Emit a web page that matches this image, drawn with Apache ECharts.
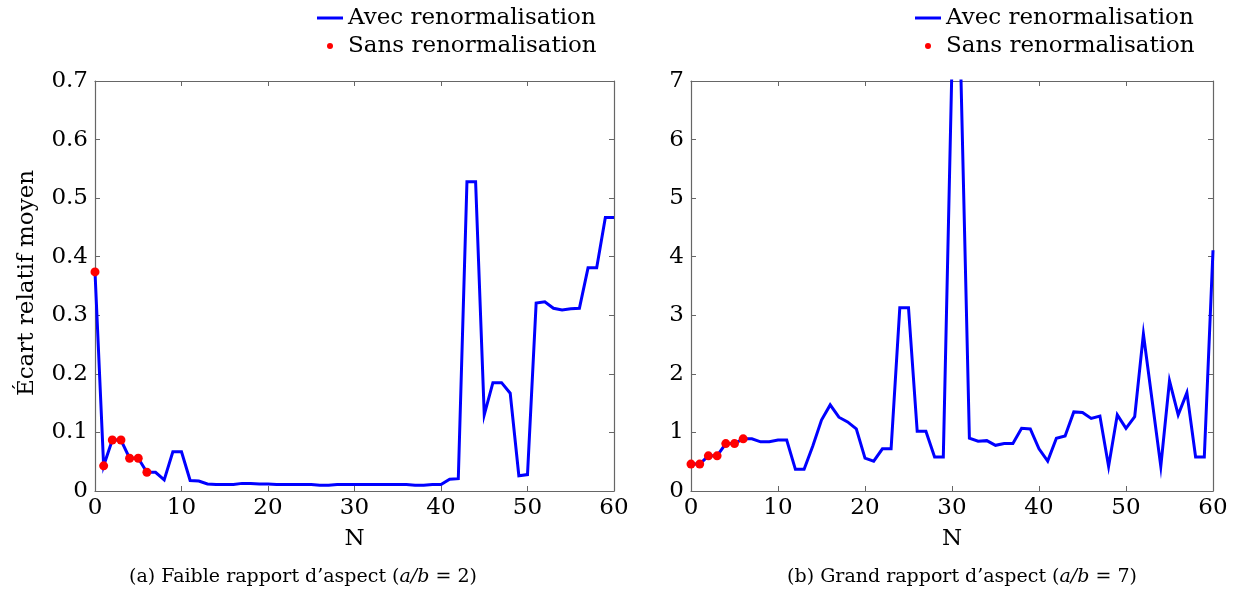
<!DOCTYPE html>
<html>
<head>
<meta charset="utf-8">
<script src="https://cdn.jsdelivr.net/npm/echarts@6/dist/echarts.min.js"></script>
<style>
html,body{margin:0;padding:0;background:#fff;}
#c{width:1237px;height:596px;}
</style>
</head>
<body>
<div id="c"></div>
<script>
// N values 0..60
var nValues = [];
for (var i = 0; i <= 60; i++) nValues.push(i);

// (a) a/b = 2 : Avec renormalisation
var avecA = [0.374, 0.043, 0.087, 0.087, 0.056, 0.056, 0.032, 0.032, 0.019, 0.067,
  0.067, 0.018, 0.017, 0.012, 0.011, 0.011, 0.011, 0.013, 0.013, 0.012,
  0.012, 0.011, 0.011, 0.011, 0.011, 0.011, 0.010, 0.010, 0.011, 0.011,
  0.011, 0.011, 0.011, 0.011, 0.011, 0.011, 0.011, 0.010, 0.010, 0.011,
  0.011, 0.020, 0.021, 0.528, 0.528, 0.130, 0.185, 0.185, 0.167, 0.026,
  0.028, 0.321, 0.323, 0.312, 0.309, 0.311, 0.312, 0.381, 0.381, 0.467,
  0.467];
// (a) Sans renormalisation (N = 0..6)
var sansA = [0.374, 0.043, 0.087, 0.087, 0.056, 0.056, 0.032];

// (b) a/b = 7 : Avec renormalisation
var avecB = [0.46, 0.46, 0.60, 0.60, 0.81, 0.81, 0.89, 0.89, 0.84, 0.84,
  0.87, 0.87, 0.37, 0.37, 0.77, 1.21, 1.47, 1.26, 1.18, 1.06,
  0.56, 0.51, 0.72, 0.72, 3.13, 3.13, 1.02, 1.02, 0.58, 0.58,
  7.30, 7.25, 0.90, 0.85, 0.86, 0.78, 0.81, 0.81, 1.07, 1.06,
  0.72, 0.51, 0.90, 0.94, 1.35, 1.34, 1.24, 1.28, 0.42, 1.30,
  1.07, 1.27, 2.68, 1.55, 0.42, 1.88, 1.30, 1.68, 0.58, 0.58,
  4.11];
// (b) Sans renormalisation (N = 0..6)
var sansB = [0.46, 0.46, 0.60, 0.60, 0.81, 0.81, 0.89];

var seriesNames = ['Avec renormalisation', 'Sans renormalisation'];
var yLabel = 'Écart relatif moyen';
var xLabel = 'N';

function pairs(vals) {
  return vals.map(function (v, i) { return [nValues[i], v]; });
}

var FONT = 'DejaVu Serif';
var FS = 23;
var AXC = '#666666';

function mainX(g) {
  return {
    type: 'value', gridIndex: g, position: 'bottom', min: 0, max: 60, interval: 10,
    name: xLabel, nameLocation: 'middle', nameGap: 37,
    nameTextStyle: {fontFamily: FONT, fontSize: FS, color: '#000'},
    axisLine: {show: true, onZero: false, lineStyle: {color: AXC, width: 1.2}},
    axisTick: {show: true, inside: true, length: 5, lineStyle: {color: AXC}},
    axisLabel: {fontFamily: FONT, fontSize: FS, color: '#000', margin: 6},
    splitLine: {show: false}
  };
}
function topX(g) {
  return {
    type: 'value', gridIndex: g, position: 'top', min: 0, max: 60, interval: 10,
    axisLine: {show: true, onZero: false, lineStyle: {color: AXC, width: 1.2}},
    axisTick: {show: true, inside: true, length: 5, lineStyle: {color: AXC}},
    axisLabel: {show: false}, splitLine: {show: false}
  };
}
function mainY(g, max, interval) {
  return {
    type: 'value', gridIndex: g, position: 'left', min: 0, max: max, interval: interval,
    axisLine: {show: true, onZero: false, lineStyle: {color: AXC, width: 1.2}},
    axisTick: {show: true, inside: true, length: 5, lineStyle: {color: AXC}},
    axisLabel: {fontFamily: FONT, fontSize: FS, color: '#000', margin: 7},
    splitLine: {show: false}
  };
}
function rightY(g, max, interval) {
  return {
    type: 'value', gridIndex: g, position: 'right', min: 0, max: max, interval: interval,
    axisLine: {show: true, onZero: false, lineStyle: {color: AXC, width: 1.2}},
    axisTick: {show: true, inside: true, length: 5, lineStyle: {color: AXC}},
    axisLabel: {show: false}, splitLine: {show: false}
  };
}

function lineSeries(xi, yi, vals) {
  return {
    name: seriesNames[0], type: 'line', xAxisIndex: xi, yAxisIndex: yi,
    data: pairs(vals), symbol: 'none', clip: true, z: 2,
    lineStyle: {color: '#0000ff', width: 3, join: 'miter', miterLimit: 10},
    itemStyle: {color: '#0000ff'}
  };
}
function dotSeries(xi, yi, vals) {
  return {
    name: seriesNames[1], type: 'scatter', xAxisIndex: xi, yAxisIndex: yi,
    data: pairs(vals), symbol: 'circle', symbolSize: 9, z: 3,
    itemStyle: {color: '#ff0000', opacity: 1}
  };
}

function legendAt(left) {
  return {
    left: left, top: 1, orient: 'vertical', itemWidth: 26, itemHeight: 6, itemGap: 4,
    textStyle: {fontFamily: FONT, fontSize: FS, color: '#000', lineHeight: 24},
    itemStyle: {opacity: 1},
    data: [
      {name: seriesNames[0], icon: 'path://M0,0H26V3H0Z', itemStyle: {color: '#0000ff', borderWidth: 0}},
      {name: seriesNames[1], icon: 'circle', itemStyle: {color: '#ff0000', borderWidth: 0}}
    ],
    selectedMode: false
  };
}

var chart = echarts.init(document.getElementById('c'), null, {renderer: 'canvas'});
chart.setOption({
  animation: false,
  backgroundColor: '#fff',
  legend: [legendAt(312), legendAt(910)],
  grid: [
    {left: 95, top: 81, width: 519, height: 410, containLabel: false},
    {left: 691, top: 81, width: 522, height: 410, containLabel: false}
  ],
  xAxis: [mainX(0), topX(0), mainX(1), topX(1)],
  yAxis: [mainY(0, 0.7, 0.1), rightY(0, 0.7, 0.1), mainY(1, 7, 1), rightY(1, 7, 1)],
  series: [
    lineSeries(0, 0, avecA), dotSeries(0, 0, sansA),
    lineSeries(2, 2, avecB), dotSeries(2, 2, sansB)
  ],
  graphic: [
    {type: 'text', x: 27, y: 283, rotation: Math.PI / 2,
     style: {text: yLabel, font: FS + 'px "' + FONT + '"', fill: '#000', align: 'center', verticalAlign: 'middle'}},
    {type: 'text', x: 303, y: 577,
     style: {text: '(a) Faible rapport d\u2019aspect ({i|a/b} = 2)', font: '19px "' + FONT + '"', fill: '#000', align: 'center', verticalAlign: 'middle',
       rich: {i: {fontStyle: 'italic', fontFamily: FONT, fontSize: 19, fill: '#000'}}}},
    {type: 'text', x: 962, y: 577,
     style: {text: '(b) Grand rapport d\u2019aspect ({i|a/b} = 7)', font: '19px "' + FONT + '"', fill: '#000', align: 'center', verticalAlign: 'middle',
       rich: {i: {fontStyle: 'italic', fontFamily: FONT, fontSize: 19, fill: '#000'}}}}
  ]
});
</script>
</body>
</html>
